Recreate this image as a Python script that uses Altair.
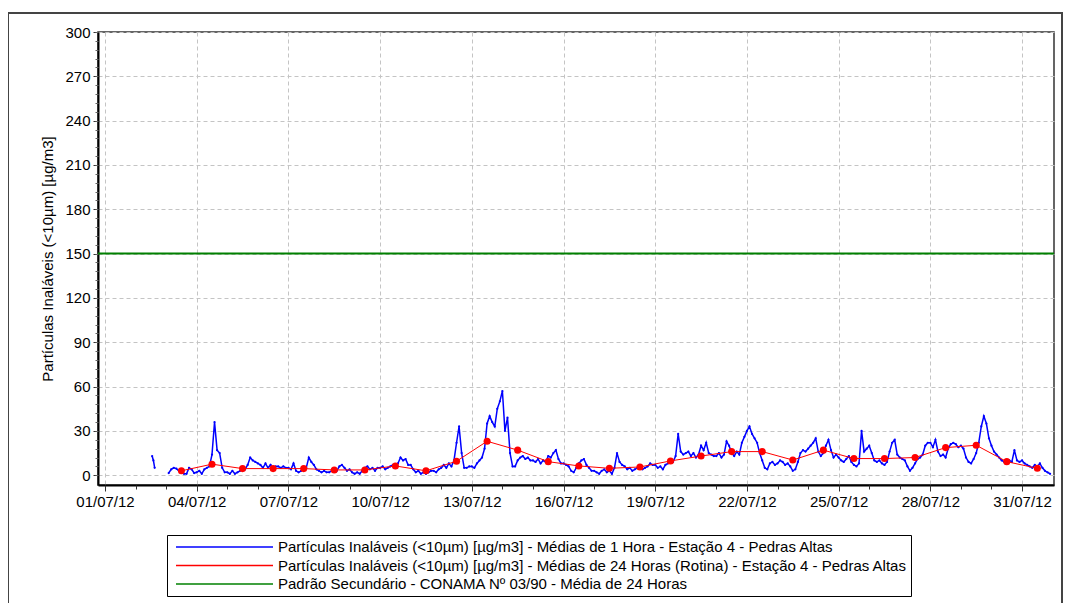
import altair as alt
import pandas as pd

S1 = "Partículas Inaláveis (<10µm) [µg/m3] - Médias de 1 Hora - Estação 4 - Pedras Altas"
S2 = "Partículas Inaláveis (<10µm) [µg/m3] - Médias de 24 Horas (Rotina) - Estação 4 - Pedras Altas"
S3 = "Padrão Secundário - CONAMA Nº 03/90 - Média de 24 Horas"
Y_TITLE = "Partículas Inaláveis (<10µm) [µg/m3]"

# 1-hour means (read every 2 h); 02/07 fragment is hourly from 13:00, 03/07 starts at 02:00
jul02_pm = [13, 10, 5]
jul03 = [1.5, 4, 5, 4.5, 3, 2.5, 1, 1, 5, 4, 1.5]
jul04 = [2, 3, 1, 4, 5, 6, 14, 36, 17, 15, 5, 2]
jul05 = [2, 1, 3, 1, 2, 3, 5, 4, 7, 12, 10, 9]
jul06 = [8, 7, 5, 8, 5, 7, 4, 6, 6, 5, 6, 5]
jul07 = [5, 4, 8, 3, 2, 3, 4, 5, 12, 9, 7, 4]
jul08 = [3, 2, 3, 2, 2, 3, 4, 3, 6, 7, 5, 3]
jul09 = [4, 2, 1, 2, 1, 3, 5, 6, 4, 5, 3, 5]
jul10 = [5, 6, 4, 5, 6, 7, 5, 8, 12, 10, 11, 7]
jul11 = [7, 4, 2, 3, 1, 2, 1, 2, 3, 3, 2, 4]
jul12 = [5, 7, 5, 8, 6, 10, 22, 33, 15, 5, 5, 6]
jul13 = [6, 5, 8, 10, 12, 18, 35, 40, 36, 33, 45, 50]
jul14 = [57, 30, 39, 15, 6, 6, 10, 12, 13, 11, 12, 10]
jul15 = [10, 9, 11, 8, 10, 9, 13, 12, 15, 17, 11, 8]
jul16 = [8, 7, 6, 3, 2, 5, 8, 10, 11, 7, 5, 3]
jul17 = [3, 2, 1, 3, 4, 2, 3, 1, 5, 15, 9, 7]
jul18 = [6, 4, 5, 3, 4, 5, 6, 4, 5, 6, 8, 7]
jul19 = [7, 5, 6, 4, 7, 8, 10, 9, 13, 28, 16, 14]
jul20 = [15, 16, 13, 15, 12, 14, 20, 17, 22, 15, 14, 13]
jul21 = [13, 15, 12, 14, 23, 20, 15, 13, 16, 14, 22, 26]
jul22 = [30, 33, 28, 25, 22, 15, 10, 5, 4, 8, 9, 7]
jul23 = [8, 10, 9, 7, 8, 6, 3, 4, 9, 15, 17, 16]
jul24 = [18, 20, 22, 25, 16, 13, 15, 20, 24, 17, 12, 14]
jul25 = [12, 10, 9, 11, 13, 9, 7, 6, 8, 30, 16, 18]
jul26 = [20, 15, 10, 9, 10, 8, 7, 9, 16, 22, 24, 14]
jul27 = [12, 11, 10, 6, 3, 5, 8, 11, 12, 14, 20, 22]
jul28 = [22, 19, 24, 16, 13, 14, 12, 18, 21, 22, 21, 19]
jul29 = [20, 18, 12, 9, 8, 11, 15, 22, 33, 40, 35, 25]
jul30 = [20, 16, 14, 12, 10, 9, 8, 10, 9, 17, 10, 9]
jul31 = [10, 8, 7, 6, 5, 7, 6, 8, 5, 3, 2, 1]

# 24-hour means, one per day (03/07 .. 31/07), plotted at noon
daily_days = list(range(3, 32))
daily_means = [3, 7.5, 4.5, 4.5, 4.5, 3.6, 3.6, 6.3, 3, 9.5, 23, 17, 9.2, 6.3, 4.7,
               5.6, 9.7, 13, 16, 16, 10.3, 17, 11.3, 11.3, 12, 18.7, 20.3, 9.2, 4.7]

standard_value = 150

x_label_days = [1, 4, 7, 10, 13, 16, 19, 22, 25, 28, 31]
y_ticks = list(range(0, 301, 30))
y_minor_ticks = list(range(0, 301, 6))

# ---- build tables ----
rows = []
for i, v in enumerate(jul02_pm):
    rows.append({"time": f"2012-07-02T{13 + i:02d}:00:00", "value": v, "seg": 0, "series": S1})
for i, v in enumerate(jul03):
    rows.append({"time": f"2012-07-03T{2 + 2 * i:02d}:00:00", "value": v, "seg": 1, "series": S1})
later_days = [(4, jul04), (5, jul05), (6, jul06), (7, jul07), (8, jul08), (9, jul09), (10, jul10),
              (11, jul11), (12, jul12), (13, jul13), (14, jul14), (15, jul15), (16, jul16),
              (17, jul17), (18, jul18), (19, jul19), (20, jul20), (21, jul21), (22, jul22),
              (23, jul23), (24, jul24), (25, jul25), (26, jul26), (27, jul27), (28, jul28),
              (29, jul29), (30, jul30), (31, jul31)]
for d, vals in later_days:
    for i, v in enumerate(vals):
        rows.append({"time": f"2012-07-{d:02d}T{2 * i:02d}:00:00", "value": v, "seg": 1, "series": S1})
hourly = pd.DataFrame(rows)

daily = pd.DataFrame({
    "time": [f"2012-07-{d:02d}T12:00:00" for d in daily_days],
    "value": daily_means,
    "series": S2,
})
std = pd.DataFrame({"value": [standard_value], "series": [S3]})
frame_df = pd.DataFrame({"k": [0]})

FONT = "Liberation Sans"
FS = 15

x_scale = alt.Scale(domain=[
    alt.DateTime(year=2012, month=6, date=30, hours=18, minutes=30),
    alt.DateTime(year=2012, month=8, date=1, hours=1, minutes=5),
])
y_scale = alt.Scale(domain=[-6.6, 300], nice=False, zero=False)

color = alt.Color(
    "series:N",
    scale=alt.Scale(domain=[S1, S2, S3], range=["#0000ff", "#ff0000", "#008000"]),
    legend=alt.Legend(
        title=None, orient="none", legendX=69, legendY=503,
        symbolType="stroke", symbolSize=9409, symbolStrokeWidth=1.5,
        clipHeight=16, rowPadding=2.5, labelFont=FONT, labelFontSize=FS,
        labelColor="#000", labelLimit=1000, strokeColor="#000",
        padding=4, symbolOffset=4, labelOffset=4, fillColor="white",
    ),
)

x_main_axis = alt.Axis(
    values=[alt.DateTime(year=2012, month=7, date=d) for d in x_label_days],
    format="%d/%m/%y", title=None, orient="bottom",
    labelFont=FONT, labelFontSize=FS, labelColor="#000", labelPadding=3,
    tickSize=6, tickColor="#333", domainColor="#000", domainWidth=2,
    grid=True, gridDash=[4, 3], gridColor="#c4c4c4", gridWidth=1,
)
x_minor_axis = alt.Axis(
    values=[alt.DateTime(year=2012, month=7, date=d) for d in range(1, 32)],
    labels=False, title=None, orient="bottom", grid=False, domain=False,
    tickSize=4, tickColor="#333",
)
y_main_axis = alt.Axis(
    values=y_ticks, title=Y_TITLE, orient="left",
    titleFont=FONT, titleFontSize=FS, titleFontWeight="normal", titleColor="#000", titlePadding=9,
    labelFont=FONT, labelFontSize=FS, labelColor="#000", labelPadding=3,
    tickSize=5, tickColor="#333", domainColor="#000", domainWidth=2,
    grid=True, gridDash=[4, 3], gridColor="#c4c4c4", gridWidth=1,
)
y_minor_axis = alt.Axis(
    values=y_minor_ticks, labels=False, title=None, orient="left", grid=False,
    domain=False, tickSize=3, tickColor="#666",
)

frame = alt.Chart(frame_df).mark_rect(
    fillOpacity=0, stroke="#444", strokeWidth=2
).encode(
    x=alt.value(-90), x2=alt.value(964), y=alt.value(-19), y2=alt.value(700)
)

std_layer = alt.Chart(std).mark_rule(strokeWidth=2).encode(
    y=alt.Y("value:Q", scale=y_scale, axis=None),
    color=color,
)

blue = alt.Chart(hourly).mark_line(
    strokeWidth=1.5, point=alt.OverlayMarkDef(filled=True, size=5)
).encode(
    x=alt.X("time:T", scale=x_scale, axis=x_main_axis),
    y=alt.Y("value:Q", scale=y_scale, axis=y_main_axis),
    detail="seg:N",
    color=color,
)

red = alt.Chart(daily).mark_line(
    strokeWidth=1, point=alt.OverlayMarkDef(filled=True, size=50)
).encode(
    x=alt.X("time:T", scale=x_scale, axis=x_minor_axis),
    y=alt.Y("value:Q", scale=y_scale, axis=y_minor_axis),
    color=color,
)

chart = alt.layer(frame, std_layer, blue, red).resolve_axis(
    x="independent", y="independent"
).properties(
    width=956, height=453,
    autosize=alt.AutoSizeParams(type="none"),
    padding={"left": 90, "top": 24, "right": 9, "bottom": 118},
    background="white",
).configure_view(
    stroke="#333", strokeWidth=1.5
)

chart.save("out.html", embed_options={"renderer": "svg", "actions": False})
